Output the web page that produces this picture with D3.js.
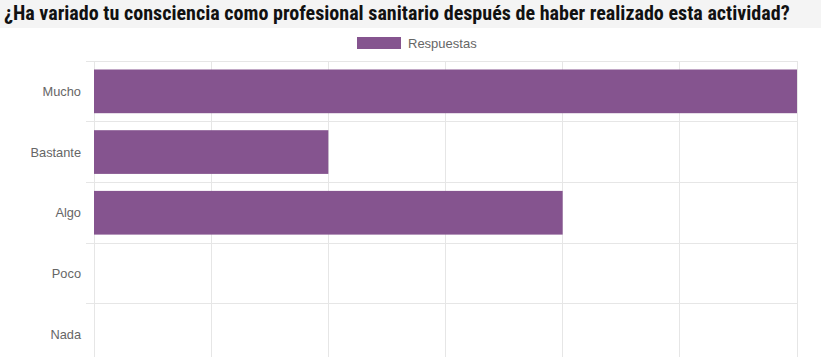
<!DOCTYPE html>
<html><head><meta charset="utf-8">
<script src="https://cdn.jsdelivr.net/npm/d3@7"></script>
<style>html,body{margin:0;padding:0;background:#fff;overflow:hidden}</style>
</head><body>
<svg id="c" width="821" height="357"></svg>
<script>
const title = "¿Ha variado tu consciencia como profesional sanitario después de haber realizado esta actividad?";
const seriesName = "Respuestas";
const categories = ["Mucho", "Bastante", "Algo", "Poco", "Nada"];
const values = [6, 2, 4, 0, 0];
const xTicks = [0, 1, 2, 3, 4, 5, 6];

(function () {
const W = 821, H = 357;
const svg = d3.select("#c");
const barColor = "#85548f";
const gridColor = "#e6e6e6";

// title bar
svg.append("rect").attr("x", 0).attr("y", 0).attr("width", W).attr("height", 28).attr("fill", "#f4f4f4");
const t = svg.append("text").attr("x", 4).attr("y", 20)
  .attr("font-family", "'Liberation Sans Narrow','Roboto Condensed','DejaVu Sans Condensed',Arial,sans-serif")
  .attr("font-weight", "bold").attr("font-size", 17).attr("fill", "#111").text(title);
const tw = t.node().getComputedTextLength();
t.attr("font-size", 17 * 786 / tw);

// legend
svg.append("rect").attr("x", 357).attr("y", 37).attr("width", 44).attr("height", 12).attr("fill", barColor);
const lt = svg.append("text").attr("x", 408).attr("y", 47.5).attr("font-family", "'Liberation Sans',Arial,sans-serif")
  .attr("font-size", 13).attr("fill", "#666").text(seriesName);

// plot
const pLeft = 94, pRight = 797, pTop = 61, bandH = 60.7;
const x = d3.scaleLinear().domain([0, 6]).range([pLeft, pRight]);
const y = d3.scaleBand().domain(categories).range([pTop, pTop + bandH * categories.length]).paddingInner(0).paddingOuter(0);

const g = svg.append("g");
g.selectAll("line.vg").data(xTicks).join("line")
  .attr("x1", d => x(d)).attr("x2", d => x(d)).attr("y1", pTop).attr("y2", H + 20)
  .attr("stroke", gridColor).attr("stroke-width", 1).attr("shape-rendering", "crispEdges");
const bounds = categories.map(c => y(c)).concat([y(categories[categories.length - 1]) + y.bandwidth()]);
g.selectAll("line.hg").data(bounds).join("line")
  .attr("x1", 86).attr("x2", pRight).attr("y1", d => d).attr("y2", d => d)
  .attr("stroke", gridColor).attr("stroke-width", 1).attr("shape-rendering", "crispEdges");

const bh = y.bandwidth() * 0.72;
g.selectAll("rect.bar").data(categories.map((c, i) => ({c, v: values[i]})).filter(d => d.v > 0)).join("rect")
  .attr("x", x(0)).attr("y", d => y(d.c) + (y.bandwidth() - bh) / 2)
  .attr("width", d => x(d.v) - x(0)).attr("height", bh)
  .attr("fill", barColor);

g.selectAll("text.lab").data(categories).join("text")
  .attr("x", 81).attr("y", d => y(d) + y.bandwidth() / 2).attr("dy", "0.35em")
  .attr("text-anchor", "end").attr("font-family", "'Liberation Sans',Arial,sans-serif")
  .attr("font-size", 12.8).attr("fill", "#666").text(d => d);
})();
</script>
</body></html>
